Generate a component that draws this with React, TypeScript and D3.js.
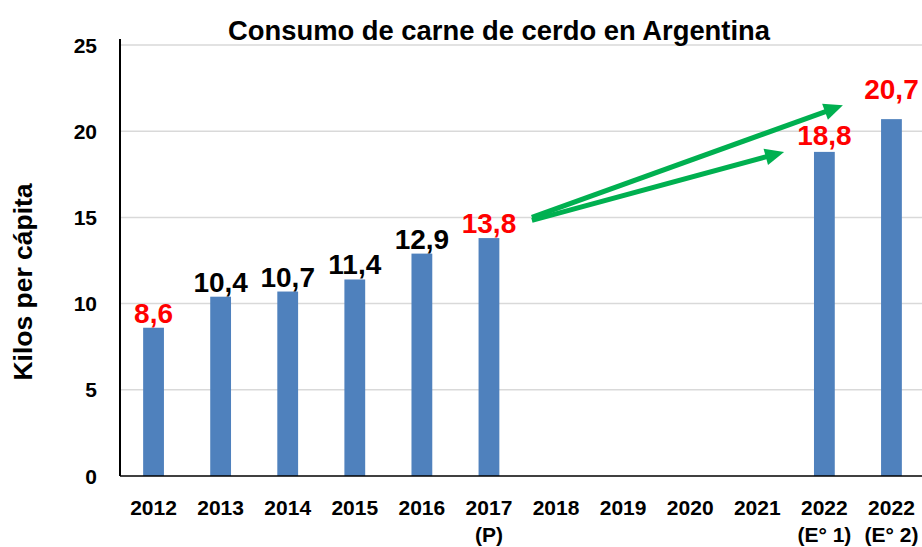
import React from "react";
import * as d3 from "d3";

const categories = ["2012", "2013", "2014", "2015", "2016", "2017", "2018", "2019", "2020", "2021", "2022 (E° 1)", "2022 (E° 2)"];
const tickLine1 = ["2012", "2013", "2014", "2015", "2016", "2017", "2018", "2019", "2020", "2021", "2022", "2022"];
const tickLine2 = ["", "", "", "", "", "(P)", "", "", "", "", "(E° 1)", "(E° 2)"];
const values: (number | null)[] = [8.6, 10.4, 10.7, 11.4, 12.9, 13.8, null, null, null, null, 18.8, 20.7];
const valueLabels = ["8,6", "10,4", "10,7", "11,4", "12,9", "13,8", "", "", "", "", "18,8", "20,7"];
const highlighted = [true, false, false, false, false, true, false, false, false, false, true, true];
const labelGap = [5, 5, 5, 5, 5, 5, 5, 5, 5, 5, 7, 20];
const yTicks = [0, 5, 10, 15, 20, 25];

const W = 922;
const H = 547;
const left = 120;
const right = 925;
const top = 45;
const bottom = 476;
const FONT = "'Liberation Sans', Arial, sans-serif";

function Arrow({ x1, y1, x2, y2 }: { x1: number; y1: number; x2: number; y2: number }) {
  const dx = x2 - x1;
  const dy = y2 - y1;
  const len = Math.sqrt(dx * dx + dy * dy);
  const ux = dx / len;
  const uy = dy / len;
  const headLen = 19;
  const headHalf = 8.5;
  const bx = x2 - ux * headLen;
  const by = y2 - uy * headLen;
  const px = -uy;
  const py = ux;
  const pts = [
    [x2, y2],
    [bx + px * headHalf, by + py * headHalf],
    [bx - px * headHalf, by - py * headHalf],
  ]
    .map((p) => p.join(","))
    .join(" ");
  return (
    <g>
      <line x1={x1} y1={y1} x2={bx + ux * 2} y2={by + uy * 2} stroke="#00B050" strokeWidth={5} />
      <polygon points={pts} fill="#00B050" />
    </g>
  );
}

export default function App() {
  const x = d3.scaleBand<string>().domain(categories).range([left, right]).paddingInner(0.69).paddingOuter(0.345);
  const y = d3.scaleLinear().domain([0, 25]).range([bottom, top]);
  const step = x.step();
  const bw = x.bandwidth();
  const cx = (c: string) => (x(c) as number) + bw / 2;

  const start = { x: cx("2017") + 0.64 * step, y: y(15) };
  const tip1 = { x: cx("2022 (E° 1)") + 0.276 * step, y: y(21.5) };
  const tip2 = { x: cx("2022 (E° 1)") - 0.6 * step, y: y(18.8) };

  return (
    <div style={{ position: "absolute", left: 0, top: 0 }}>
      <svg width={W} height={H} style={{ display: "block", background: "#fff" }}>
        {yTicks.map((t) => (
          <g key={t}>
            {t > 0 && <line x1={left} x2={W} y1={y(t)} y2={y(t)} stroke="#D9D9D9" strokeWidth={1.5} />}
            <text
              x={97}
              y={y(t)}
              dy="0.36em"
              textAnchor="end"
              fontFamily={FONT}
              fontWeight="bold"
              fontSize={21}
              fill="#000"
            >
              {t}
            </text>
          </g>
        ))}
        {categories.map((c, i) =>
          values[i] == null ? null : (
            <rect key={c} x={x(c)} y={y(values[i] as number)} width={bw} height={bottom - y(values[i] as number)} fill="#4F81BD" />
          )
        )}
        <line x1={left} x2={left} y1={top - 6} y2={bottom} stroke="#000" strokeWidth={2} />
        <line x1={left} x2={W} y1={bottom} y2={bottom} stroke="#000" strokeWidth={1.5} />
        {categories.map((c, i) => (
          <g key={"t" + c}>
            <text x={cx(c)} y={515} textAnchor="middle" fontFamily={FONT} fontWeight="bold" fontSize={21} fill="#000">
              {tickLine1[i]}
            </text>
            {tickLine2[i] && (
              <text x={cx(c)} y={542} textAnchor="middle" fontFamily={FONT} fontWeight="bold" fontSize={21} fill="#000">
                {tickLine2[i]}
              </text>
            )}
          </g>
        ))}
        {categories.map((c, i) =>
          values[i] == null ? null : (
            <text
              key={"v" + c}
              x={cx(c)}
              y={y(values[i] as number) - labelGap[i]}
              textAnchor="middle"
              fontFamily={FONT}
              fontWeight="bold"
              fontSize={28}
              fill={highlighted[i] ? "#FF0000" : "#000"}
            >
              {valueLabels[i]}
            </text>
          )
        )}
        <Arrow x1={start.x} y1={start.y} x2={tip1.x} y2={tip1.y} />
        <Arrow x1={start.x} y1={start.y + 3} x2={tip2.x} y2={tip2.y} />
        <text
          x={499}
          y={40}
          textAnchor="middle"
          fontFamily={FONT}
          fontWeight="bold"
          fontSize={27}
          textLength={542}
          lengthAdjust="spacingAndGlyphs"
          fill="#000"
        >
          Consumo de carne de cerdo en Argentina
        </text>
        <text
          transform={`translate(32,282) rotate(-90)`}
          textAnchor="middle"
          fontFamily={FONT}
          fontWeight="bold"
          fontSize={25}
          textLength={197}
          lengthAdjust="spacingAndGlyphs"
          fill="#000"
        >
          Kilos per cápita
        </text>
      </svg>
    </div>
  );
}
